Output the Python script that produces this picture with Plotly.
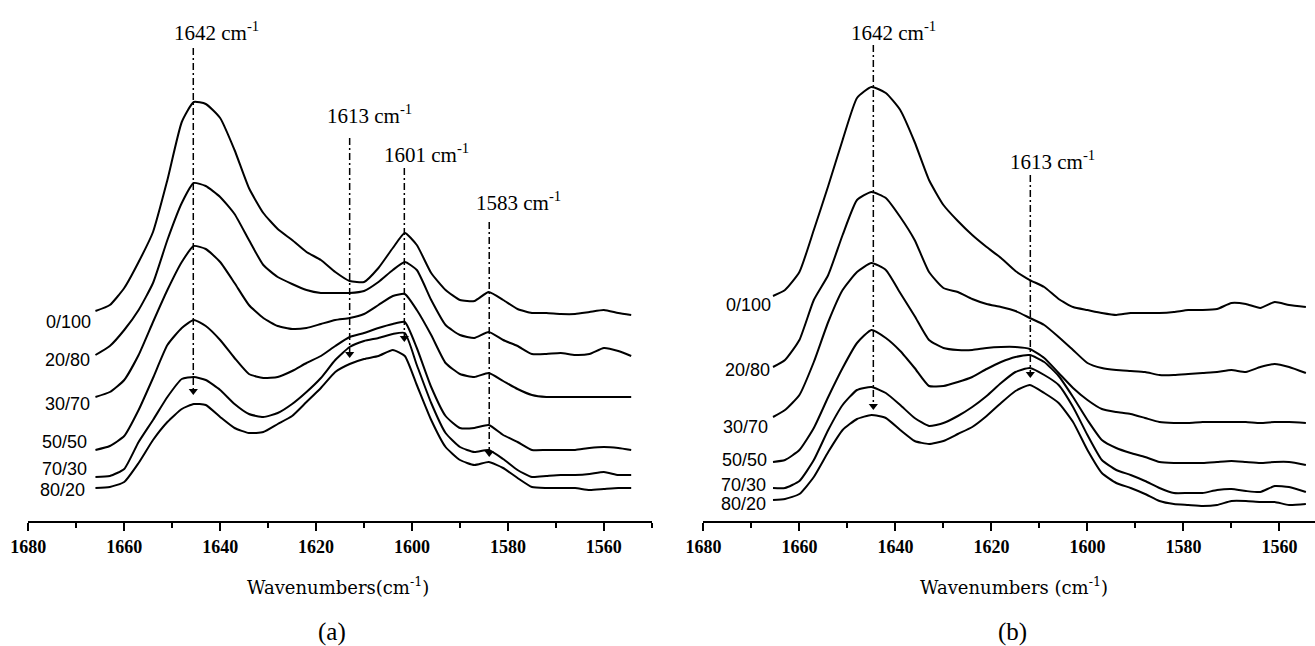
import plotly.graph_objects as go

# ---------------- data (absorbance, arbitrary units, offset-stacked) ----------------
# panel (a)
wn_a = [1666, 1663, 1660, 1657, 1654, 1651, 1648, 1645.5, 1643, 1640, 1637, 1634, 1631,
        1628, 1625, 1622, 1619, 1616, 1613, 1610, 1607, 1604, 1601.5, 1599, 1596, 1593,
        1590, 1587, 1584, 1581, 1578, 1575, 1572, 1569, 1566, 1563, 1560, 1557, 1554.3]
a_0_100 = [209, 215, 232, 258, 288, 340, 398, 418, 416, 402, 370, 332, 307, 291, 280, 268, 260,
           248, 239, 238, 252, 272, 287, 275, 247, 230, 220, 219, 228, 220, 211, 207, 207, 206,
           206, 208, 210, 207, 205]
a_20_80 = [165, 174, 190, 210, 237, 280, 317, 337, 334, 323, 306, 280, 255, 243, 236, 230, 227,
           227, 227, 229, 238, 250, 258, 250, 220, 195, 185, 182, 188, 180, 174, 166, 166, 167,
           165, 166, 172, 169, 164]
a_30_70 = [123, 128, 140, 165, 198, 230, 258, 274, 271, 258, 237, 215, 202, 194, 191, 192, 196,
           200, 202, 206, 215, 224, 226, 210, 185, 157, 146, 143, 147, 139, 131, 125, 123, 123,
           123, 123, 123, 123, 123]
a_50_50 = [70, 74, 84, 110, 142, 175, 192, 200, 194, 180, 162, 146, 142, 143, 149, 157, 164,
           174, 183, 187, 192, 196, 198, 172, 133, 104, 92, 92, 95, 85, 78, 70, 70, 70, 70, 72,
           73, 72, 70]
a_70_30 = [43, 44, 51, 78, 100, 123, 141, 143, 140, 130, 116, 106, 103, 107, 116, 128, 142, 160,
           173, 179, 182, 186, 187, 155, 117, 87, 73, 68, 70, 61, 50, 43, 44, 45, 45, 46, 48, 45, 45]
a_80_20 = [32, 33, 38, 57, 80, 98, 111, 116, 115, 103, 92, 87, 88, 96, 104, 118, 132, 148, 156,
           161, 164, 170, 164, 135, 100, 73, 60, 55, 58, 52, 42, 33, 32, 32, 32, 30, 31, 32, 32]

# panel (b)
wn_b = [1665.5, 1663, 1660, 1657, 1654, 1651, 1648, 1645, 1642, 1639, 1636, 1633, 1630, 1627,
        1624, 1621, 1618, 1615, 1612, 1609, 1606, 1603, 1600, 1597, 1594, 1591, 1588, 1585,
        1582, 1579, 1576, 1573, 1570, 1567, 1564, 1561, 1558, 1554.5]
b_0_100 = [224, 230, 248, 290, 334, 380, 422, 433, 427, 410, 378, 340, 315, 299, 285, 273, 262,
           249, 240, 233, 221, 213, 210, 207, 205, 207, 207, 207, 208, 210, 210, 211, 217, 216,
           212, 218, 215, 213]
b_20_80 = [153, 160, 180, 220, 245, 285, 320, 328, 322, 303, 280, 248, 232, 228, 221, 216, 213,
           209, 202, 195, 183, 170, 157, 152, 150, 149, 148, 145, 145, 146, 147, 148, 150, 148,
           153, 156, 153, 147]
b_30_70 = [103, 110, 125, 158, 198, 230, 248, 257, 250, 227, 204, 180, 172, 170, 170, 172, 173,
           173, 171, 162, 147, 132, 120, 111, 108, 106, 102, 98, 97, 97, 98, 98, 98, 98, 97, 98,
           98, 97]
b_50_50 = [58, 60, 70, 92, 123, 152, 177, 190, 182, 169, 152, 134, 134, 138, 143, 151, 158, 163,
           165, 158, 144, 123, 100, 80, 72, 67, 63, 58, 57, 57, 57, 58, 59, 58, 57, 58, 58, 55]
b_70_30 = [32, 32, 39, 60, 90, 115, 130, 133, 127, 115, 102, 94, 97, 104, 113, 124, 137, 148,
           152, 145, 135, 113, 85, 60, 50, 45, 39, 32, 27, 27, 27, 30, 31, 29, 28, 34, 33, 28]
b_80_20 = [20, 21, 26, 43, 68, 90, 101, 105, 102, 90, 79, 76, 79, 86, 93, 104, 117, 129, 135,
           127, 117, 98, 70, 47, 37, 32, 26, 19, 16, 15, 14, 15, 19, 19, 18, 18, 15, 16]

ratios = ["0/100", "20/80", "30/70", "50/50", "70/30", "80/20"]

# marked bands: label, wavenumber of marker line, top of line, arrow tip (a.u.)
bands_a = ["1642", "1613", "1601", "1583"]
band_pos_a = [1645.6, 1613.0, 1601.6, 1583.9]
band_top_a = [472, 382, 352, 298]
band_tip_a = [125, 162, 178, 63]

bands_b = ["1642", "1613"]
band_pos_b = [1644.6, 1611.9]
band_top_b = [475, 345]
band_tip_b = [110, 142]

major_ticks = [1680, 1660, 1640, 1620, 1600, 1580, 1560]

# ---------------- figure ----------------
SERIF = "Liberation Serif, Times New Roman, serif"
WIDE_SERIF = "DejaVu Serif, Liberation Serif, serif"
SANS = "Liberation Sans, Arial, sans-serif"
fig = go.Figure()

panels = [
    ("x", "y", wn_a, [a_0_100, a_20_80, a_30_70, a_50_50, a_70_30, a_80_20],
     band_pos_a, band_top_a, band_tip_a),
    ("x2", "y2", wn_b, [b_0_100, b_20_80, b_30_70, b_50_50, b_70_30, b_80_20],
     band_pos_b, band_top_b, band_tip_b),
]

for xa, ya, wn, series, pos, top, tip in panels:
    for ys in series:
        fig.add_trace(go.Scatter(
            x=wn, y=ys, mode="lines", xaxis=xa, yaxis=ya,
            line=dict(color="black", width=2, shape="spline", smoothing=0.5),
            hoverinfo="skip", showlegend=False))
    for p, t, b in zip(pos, top, tip):
        fig.add_trace(go.Scatter(
            x=[p, p], y=[t, b + 6], mode="lines", xaxis=xa, yaxis=ya,
            line=dict(color="black", width=1.5, dash="7px,3px,2px,3px"),
            hoverinfo="skip", showlegend=False))
    fig.add_trace(go.Scatter(
        x=pos, y=[b + 4 for b in tip], mode="markers", xaxis=xa, yaxis=ya,
        marker=dict(symbol="triangle-down", size=8, color="black"),
        hoverinfo="skip", showlegend=False))

annotations = []
# band labels (placement)
band_lab_a = [(1640.7, 489), (1608.8, 406), (1597.0, 367), (1577.8, 319)]
band_lab_b = [(1640.3, 489), (1607.3, 360)]
for xr, yr, bands, places in [("x", "y", bands_a, band_lab_a), ("x2", "y2", bands_b, band_lab_b)]:
    for txt, (lx, ly) in zip(bands, places):
        annotations.append(dict(
            x=lx, y=ly, xref=xr, yref=yr, showarrow=False, xanchor="center", yanchor="middle",
            text=f"{txt} cm<sup>-1</sup>", font=dict(family=SERIF, size=21, color="black")))

# ratio labels (placement: right edge, vertical centre)
ratio_pos_a = [(1666.5, 198.3), (1666.7, 160), (1666.7, 116.5), (1667.4, 78.5),
               (1667.4, 51.5), (1667.8, 30.5)]
ratio_pos_b = [(1665.4, 215), (1665.8, 150), (1666.1, 93), (1666.3, 60),
               (1666.5, 35), (1666.5, 16.5)]
for xr, yr, places in [("x", "y", ratio_pos_a), ("x2", "y2", ratio_pos_b)]:
    for txt, (lx, ly) in zip(ratios, places):
        annotations.append(dict(
            x=lx, y=ly, xref=xr, yref=yr, showarrow=False, xanchor="right", yanchor="middle",
            text=txt, font=dict(family=SANS, size=18, color="black")))

# axis titles and panel letters
for tx, lx, title, letter in [(0.2573, 0.2522, "Wavenumbers(cm<sup>-1</sup>)", "(a)"),
                              (0.7711, 0.7703, "Wavenumbers (cm<sup>-1</sup>)", "(b)")]:
    annotations.append(dict(x=tx, y=-0.124, xref="paper", yref="paper", showarrow=False,
                            xanchor="center", yanchor="middle", text=title,
                            font=dict(family=WIDE_SERIF, size=18, color="black")))
    annotations.append(dict(x=lx, y=-0.213, xref="paper", yref="paper", showarrow=False,
                            xanchor="center", yanchor="middle", text=letter,
                            font=dict(family=SERIF, size=25, color="black")))

xaxis_common = dict(
    tickmode="array", tickvals=major_ticks, ticktext=[str(v) for v in major_ticks],
    ticks="outside", ticklen=8, tickwidth=2, tickcolor="black",
    showline=True, linewidth=2, linecolor="black", showgrid=False, zeroline=False,
    tickfont=dict(family=SERIF, size=18, color="black", weight="bold"),
    minor=dict(tickmode="linear", tick0=1550, dtick=10, ticks="outside", ticklen=5,
               tickwidth=2, tickcolor="black", showgrid=False),
    fixedrange=True, automargin=False,
)

fig.update_layout(
    width=1315, height=646,
    margin=dict(l=0, r=0, t=0, b=125, pad=0, autoexpand=False),
    paper_bgcolor="white", plot_bgcolor="white",
    showlegend=False,
    xaxis=dict(domain=[0.02152, 0.49605], range=[1680, 1549.9], anchor="y", **xaxis_common),
    xaxis2=dict(domain=[0.53490, 1.0], range=[1680, 1552.6], anchor="y2", **xaxis_common),
    yaxis=dict(domain=[0, 1], range=[-1, 520], visible=False, anchor="x", fixedrange=True),
    yaxis2=dict(domain=[0, 1], range=[-1, 520], visible=False, anchor="x2", fixedrange=True),
    annotations=annotations,
)

fig.write_html("out.html", config={"displayModeBar": False},
               post_script="document.body.style.margin='0px';")
